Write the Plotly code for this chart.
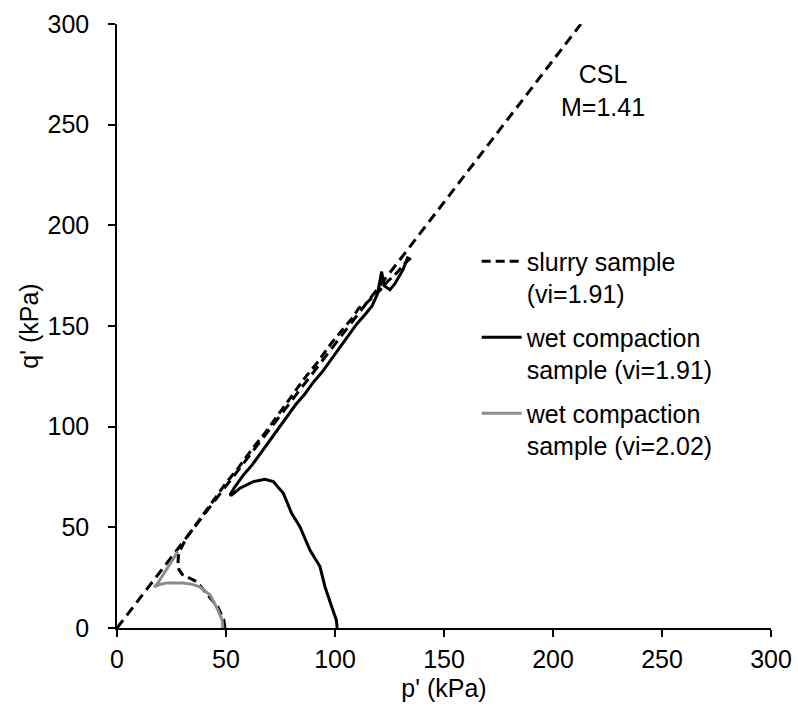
import plotly.graph_objects as go

# Critical state line (M = 1.41)
csl_p = [0, 212.8]
csl_q = [0, 300]

# slurry sample (vi=1.91)
slurry_p = [49.5, 49.0, 46.3, 43.4, 40.0, 36.7, 32.6, 30.0, 28.4, 28.0, 28.2, 28.6, 32, 36, 39, 44, 50, 56, 62,
            68, 74, 80, 86, 92, 98, 104, 108, 111, 114, 117, 120, 124, 128, 132, 135]
slurry_q = [0.0, 4.0, 10.4, 13.9, 18.5, 22.9, 25.0, 26.5, 29.0, 33.0, 36.0, 38.0, 45, 51, 55, 63, 72, 80, 89,
            97, 106, 115, 124, 132, 141, 149, 154, 159, 161, 164, 167, 172, 176, 181, 184]

# wet compaction sample (vi=1.91)
wet1_p = [101.0, 100.6, 98.5, 95.4, 93.1, 88.5, 83.9, 80.1, 76.3, 71.7, 67.9, 62.5, 56.4, 52.6, 51.8,
          54, 58, 62, 66, 70, 74, 78, 82, 86, 90, 94, 98, 102, 106, 110, 114, 117, 119.5, 121.4,
          122.5, 125.2, 127.5, 131.2, 133.5]
wet1_q = [0.0, 4.0, 10.6, 20.5, 30.5, 38.7, 50.3, 57.0, 66.9, 72.7, 73.9, 72.7, 69.4, 66.0, 66.0,
          70, 76, 81, 87, 93, 99, 105, 111, 116, 122, 127, 133, 139, 145, 151, 156, 160, 166, 177,
          170, 168, 171, 178, 184.5]

# wet compaction sample (vi=2.02)
wet2_p = [48.6, 48.2, 46.3, 42.7, 38.0, 34.0, 30.3, 26.0, 22.9, 19.5, 17.0, 18.2, 21.0, 24.0, 26.5, 27.8]
wet2_q = [0.0, 4.0, 9.0, 16.4, 20.4, 21.8, 22.4, 22.6, 22.4, 21.6, 20.4, 21.5, 26.0, 31.0, 35.5, 38.0]

FONT = "Liberation Sans, Arial, sans-serif"
FS = 25

fig = go.Figure()
fig.add_trace(go.Scatter(x=csl_p, y=csl_q, mode="lines", showlegend=False,
                         line=dict(color="black", width=3, dash="10px,6px")))
fig.add_trace(go.Scatter(x=slurry_p, y=slurry_q, mode="lines", name="slurry sample<br>(vi=1.91)",
                         legendgroup="a",
                         line=dict(color="black", width=3, dash="9px,5px")))
fig.add_trace(go.Scatter(x=wet1_p, y=wet1_q, mode="lines", name="wet compaction<br>sample (vi=1.91)",
                         legendgroup="b",
                         line=dict(color="black", width=3)))
fig.add_trace(go.Scatter(x=wet2_p, y=wet2_q, mode="lines", name="wet compaction<br>sample (vi=2.02)",
                         legendgroup="c",
                         line=dict(color="#8c8c8c", width=3)))

fig.add_annotation(x=223, y=267, xref="x", yref="y", text="CSL<br>M=1.41", showarrow=False,
                   font=dict(family=FONT, size=FS, color="black"))

axis_common = dict(range=[0, 300], dtick=50, showgrid=False, zeroline=False, showline=True,
                   linecolor="black", linewidth=1.5, ticks="outside", ticklen=7, tickwidth=1.5,
                   tickcolor="black", tickfont=dict(family=FONT, size=FS, color="black"),
                   automargin=False)

fig.update_xaxes(**axis_common, ticklabelstandoff=1,
                 title=dict(text="p' (kPa)", font=dict(family=FONT, size=FS, color="black"), standoff=8))
fig.update_yaxes(**axis_common, ticklabelstandoff=14,
                 title=dict(text="q' (kPa)", font=dict(family=FONT, size=FS, color="black"), standoff=2))

fig.update_layout(
    width=798, height=718,
    margin=dict(l=117, r=27, t=24, b=90, autoexpand=False),
    plot_bgcolor="white", paper_bgcolor="white",
    font=dict(family=FONT, size=FS, color="black"),
    legend=dict(x=0.55, y=0.645, xanchor="left", yanchor="top", valign="top",
                font=dict(family=FONT, size=FS, color="black"), bgcolor="rgba(0,0,0,0)",
                tracegroupgap=8, itemwidth=40, traceorder="grouped"),
)

fig.write_html("out.html")
